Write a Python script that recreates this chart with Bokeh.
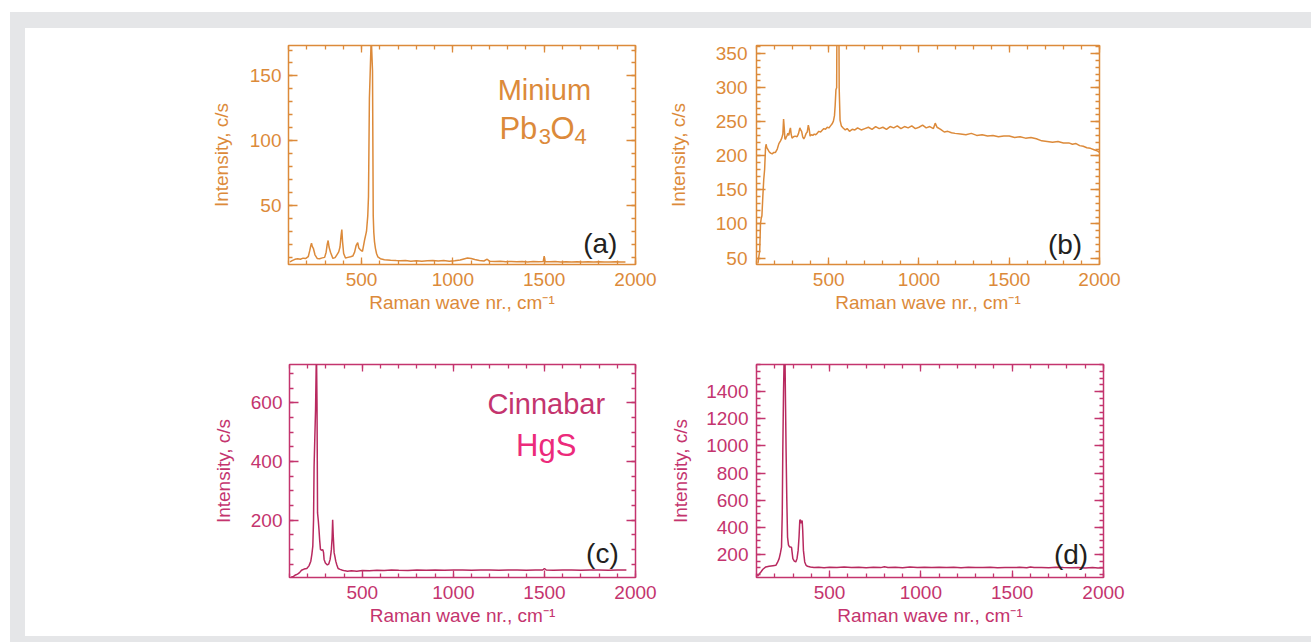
from bokeh.plotting import figure
from bokeh.models import Range1d, LinearAxis, FixedTicker, Label, Spacer
from bokeh.layouts import row, column
from bokeh.embed import file_html
from bokeh.resources import INLINE

# ---------------- data ----------------
x_major = [500, 1000, 1500, 2000]
x_minor = list(range(100, 2001, 100))

# (a) Minium Pb3O4, 1st spectrum
a_x = [108, 120, 135, 150, 165, 180, 195, 208, 216, 222,
       226, 230, 236, 245, 257, 270, 285, 298, 306, 312,
       317, 322, 330, 343, 355, 365, 375, 382, 388, 392,
       396, 402, 412, 425, 440, 452, 462, 470, 479, 485,
       492, 505, 516, 527, 534, 538, 543, 547, 553, 560,
       564, 567, 571, 576, 582, 589, 603, 625, 659, 690,
       713, 740, 770, 800, 830, 860, 890, 920, 950, 980,
       1010, 1040, 1060, 1080, 1100, 1120, 1145, 1170, 1188, 1200,
       1230, 1260, 1290, 1320, 1350, 1380, 1410, 1440, 1470, 1495,
       1500, 1505, 1530, 1560, 1590, 1620, 1650, 1680, 1710, 1740,
       1770, 1800, 1830, 1860, 1890, 1920, 1945]
a_y = [6.5, 7.5, 8.5, 9.0, 8.6, 9.4, 9.2, 10.5, 15, 19,
       21, 18.5, 17, 12, 9.2, 9.0, 9.6, 10, 14, 20,
       23, 18, 14, 9.2, 9.8, 12, 14.2, 18, 27, 31.4,
       22, 13, 9.5, 10, 10.5, 11, 14, 19, 21.3, 17.2,
       16, 14.6, 23, 30, 42, 57, 133, 151, 180, 154,
       42, 29.4, 22, 17, 13, 10.4, 9.0, 8.2, 7.8, 7.5,
       7.3, 7.6, 7.1, 7.4, 7.0, 7.3, 7.6, 7.2, 7.5, 7.1,
       7.4, 8.0, 8.8, 9.5, 9.2, 8.4, 7.6, 7.2, 8.6, 7.1,
       6.9, 7.0, 6.7, 6.9, 6.6, 6.8, 6.5, 6.8, 6.6, 6.9,
       11, 6.7, 6.6, 6.8, 6.5, 6.7, 6.4, 6.6, 6.5, 6.7,
       6.4, 6.6, 6.5, 6.4, 6.6, 6.4, 6.5]
a_yticks = [50, 100, 150]
a_yminor = list(range(10, 171, 10))

# (b) Minium, 2nd spectrum
b_x = [108, 113, 118, 122, 126, 130, 135, 140, 145, 150,
       153, 157, 162, 170, 178, 187, 196, 205, 215, 224,
       233, 240, 246, 250, 254, 257, 260, 264, 268, 274,
       279, 284, 288, 292, 297, 305, 314, 325, 333, 340,
       345, 350, 356, 362, 368, 375, 381, 387, 392, 397,
       403, 412, 420, 428, 436, 445, 455, 465, 473, 482,
       492, 501, 510, 519, 526, 532, 536, 540, 544, 546,
       551, 556, 558, 560, 563, 570, 580, 592, 602, 615,
       630, 645, 660, 680, 700, 720, 740, 760, 780, 800,
       820, 840, 860, 880, 900, 920, 940, 960, 980, 1000,
       1020, 1040, 1060, 1080, 1090, 1100, 1120, 1140, 1160, 1180,
       1200, 1230, 1260, 1290, 1320, 1350, 1380, 1410, 1440, 1470,
       1500, 1530, 1560, 1590, 1620, 1650, 1680, 1710, 1740, 1770,
       1800, 1830, 1850, 1870, 1890, 1910, 1930, 1950, 1970, 1990,
       2000]
b_y = [42, 52, 61, 100, 108, 112, 140, 165, 180, 212,
       217, 212, 210, 206, 204, 203, 205, 205, 210, 218,
       222, 226, 232, 254, 240, 226, 224, 227, 229, 233,
       230, 237, 241, 232, 226, 228, 229, 228, 233, 241,
       238, 236, 228, 225, 228, 233, 235, 245, 239, 229,
       231, 230, 232, 231, 233, 236, 235, 238, 240, 239,
       242, 241, 244, 247, 251, 259, 275, 297, 300, 420,
       600, 420, 300, 280, 252, 244, 241, 238, 240, 236,
       239, 238, 241, 238, 240, 242, 239, 243, 240, 242,
       239, 243, 241, 244, 240, 243, 241, 244, 240, 242,
       245, 241, 243, 240, 248, 242, 239, 235, 236, 234,
       233, 232, 231, 233, 230, 231, 229, 230, 228, 229,
       229, 227, 228, 226, 227, 225, 222, 221, 220, 221,
       219, 219, 217, 218, 215, 214, 212, 211, 209, 207,
       205]
b_yticks = [50, 100, 150, 200, 250, 300, 350]
b_yminor = list(range(50, 361, 10))

# (c) Cinnabar HgS, 1st spectrum
c_x = [110, 122, 133, 144, 155, 166, 180, 195, 207, 217,
       223, 228, 232, 235, 239, 243, 246, 248, 251, 254,
       258, 262, 266, 270, 276, 283, 287, 290, 297, 308,
       316, 323, 327, 330, 334, 337, 340, 345, 350, 354,
       360, 367, 378, 391, 405, 418, 440, 470, 500, 540,
       580, 620, 660, 700, 750, 800, 850, 900, 950, 1000,
       1050, 1100, 1150, 1200, 1250, 1300, 1350, 1400, 1450, 1490,
       1500, 1510, 1550, 1600, 1650, 1700, 1750, 1800, 1850, 1900,
       1950]
c_y = [8, 9, 14, 17, 22, 30, 34, 36, 45, 61,
       85, 112, 200, 382, 480, 574, 700, 780, 600, 225,
       200, 168, 130, 101, 98, 100, 90, 67, 55, 48,
       52, 67, 85, 101, 140, 202, 150, 90, 75, 61,
       48, 36, 33, 30, 28, 27, 28, 27, 29, 28,
       30, 29, 31, 30, 29, 31, 30, 31, 30, 31,
       31, 30, 31, 31, 30, 31, 31, 30, 31, 31,
       36, 31, 30, 31, 31, 30, 31, 31, 30, 31,
       31]
c_yticks = [200, 400, 600]
c_yminor = list(range(50, 751, 50))

# (d) Cinnabar, 2nd spectrum
d_x = [105, 115, 124, 135, 151, 169, 190, 206, 215, 224,
       231, 237, 241, 244, 248, 252, 256, 259, 262, 266,
       270, 275, 281, 287, 292, 299, 307, 315, 322, 328,
       333, 337, 340, 344, 347, 350, 353, 357, 364, 372,
       379, 395, 415, 440, 470, 500, 540, 580, 620, 660,
       700, 740, 780, 800, 820, 860, 900, 940, 980, 1020,
       1060, 1100, 1140, 1180, 1220, 1260, 1300, 1340, 1380, 1420,
       1460, 1500, 1540, 1580, 1600, 1620, 1660, 1700, 1740, 1780,
       1820, 1860, 1900, 1940, 1970, 2000]
d_y = [38, 55, 70, 90, 107, 112, 116, 119, 140, 168,
       210, 254, 500, 964, 1400, 1700, 1650, 1300, 964, 600,
       327, 270, 254, 255, 250, 168, 150, 144, 170, 229,
       330, 450, 455, 430, 440, 450, 380, 229, 144, 118,
       112, 106, 102, 104, 101, 105, 102, 106, 103, 104,
       101, 105, 102, 108, 103, 104, 101, 106, 103, 104,
       102, 105, 103, 104, 101, 105, 103, 102, 104, 101,
       103, 102, 104, 101, 107, 102, 103, 101, 104, 102,
       101, 103, 100, 102, 99, 101]
d_yticks = [200, 400, 600, 800, 1000, 1200, 1400]
d_yminor = list(range(50, 1601, 50))

# ---------------- styling ----------------
ORANGE = "#dc8a3a"
MAGENTA = "#c4346e"
MAG_LINE = "#b8295f"
PINK = "#ec2a7b"
BLACK = "#231f20"
GRAY = "#e5e6e8"
FONT = "Liberation Sans"


def style_axis(ax, ticker, color, tick_len, show):
    ax.ticker = ticker
    ax.axis_line_color = None
    ax.major_tick_line_color = color
    ax.minor_tick_line_color = color
    ax.major_tick_line_width = 1.3
    ax.minor_tick_line_width = 1.3
    ax.major_tick_in = tick_len
    ax.major_tick_out = 0
    ax.minor_tick_in = 4
    ax.minor_tick_out = 0
    ax.major_label_text_font = FONT
    ax.axis_label_text_font = FONT
    ax.axis_label_text_color = color
    ax.axis_label_text_font_style = "normal"
    ax.axis_label_text_font_size = "19px"
    if show:
        ax.major_label_text_font_size = "19px"
        ax.major_label_text_color = color
    else:
        ax.major_label_text_font_size = "1px"
        ax.major_label_text_color = None
        ax.major_label_standoff = 0
        ax.axis_label_standoff = 0


def panel(w, h, ml, mr, mt, mb, yr, yticks, yminor, color, line_color,
          xs, ys, ylab_standoff, ytick_standoff):
    p = figure(width=w, height=h, x_range=Range1d(100, 2000), y_range=Range1d(*yr),
               output_backend="svg", toolbar_location=None, title=None,
               min_border_left=ml, min_border_right=mr,
               min_border_top=mt, min_border_bottom=mb)
    p.grid.visible = False
    p.outline_line_color = color
    p.outline_line_width = 1.5
    p.background_fill_color = "white"
    p.border_fill_color = "white"
    xt = FixedTicker(ticks=x_major, minor_ticks=x_minor)
    yt = FixedTicker(ticks=yticks, minor_ticks=yminor)
    style_axis(p.xaxis[0], xt, color, 7, True)
    style_axis(p.yaxis[0], yt, color, 9, True)
    p.xaxis[0].axis_label = "Raman wave nr., cm\u207b\u00b9"
    p.xaxis[0].major_label_standoff = 8
    p.xaxis[0].axis_label_standoff = 3
    p.yaxis[0].axis_label = "Intensity, c/s"
    p.yaxis[0].major_label_standoff = ytick_standoff
    p.yaxis[0].axis_label_standoff = ylab_standoff
    top = LinearAxis()
    style_axis(top, xt, color, 7, False)
    p.add_layout(top, "above")
    right = LinearAxis()
    style_axis(right, yt, color, 9, False)
    p.add_layout(right, "right")
    p.line(xs, ys, line_color=line_color, line_width=1.5)
    return p


def txt(p, x, y, text, color, size, align="center"):
    p.add_layout(Label(x=x, y=y, text=text, text_font=FONT, text_font_size=size,
                       text_color=color, text_align=align, text_baseline="alphabetic"))


pa = panel(635, 307, 263, 25, 16, 69, (4.5, 173.5), a_yticks, a_yminor, ORANGE, ORANGE,
           a_x, a_y, 15, 7)
txt(pa, 1501, 139, "Minium", ORANGE, "29px")
txt(pa, 1255, 109.3, "Pb", ORANGE, "31px", "left")
txt(pa, 1470, 103.5, "3", ORANGE, "22px", "left")
txt(pa, 1535, 109.3, "O", ORANGE, "31px", "left")
txt(pa, 1666, 103.5, "4", ORANGE, "22px", "left")
txt(pa, 1901, 20.5, "(a)", BLACK, "28px", "right")

pb = panel(651, 307, 96, 212, 17, 71, (40.5, 362), b_yticks, b_yminor, ORANGE, ORANGE,
           b_x, b_y, 24, 9)
txt(pb, 1904, 70, "(b)", BLACK, "28px", "right")

pc = panel(635, 301, 264, 25, 29, 58, (5.4, 730), c_yticks, c_yminor, MAGENTA, MAG_LINE,
           c_x, c_y, 14, 7)
txt(pc, 1510, 594, "Cinnabar", MAGENTA, "29px")
txt(pc, 1510, 456, "HgS", PINK, "31px")
txt(pc, 1908, 87.5, "(c)", BLACK, "28px", "right")

pd = panel(651, 301, 96, 208, 28, 59, (29, 1601), d_yticks, d_yminor, MAGENTA, MAG_LINE,
           d_x, d_y, 12, 8)
txt(pd, 1916, 200, "(d)", BLACK, "28px", "right")

W = 1286
inner = column(
    Spacer(width=W, height=16, styles={"background-color": GRAY}),
    row(pa, pb),
    row(pc, pd),
    Spacer(width=W, height=6, styles={"background-color": GRAY}),
)
framed = row(Spacer(width=15, height=630, styles={"background-color": GRAY}), inner)
page = column(Spacer(width=1311, height=12), row(Spacer(width=10, height=630), framed))

open("out.html", "w").write(file_html(page, INLINE))
